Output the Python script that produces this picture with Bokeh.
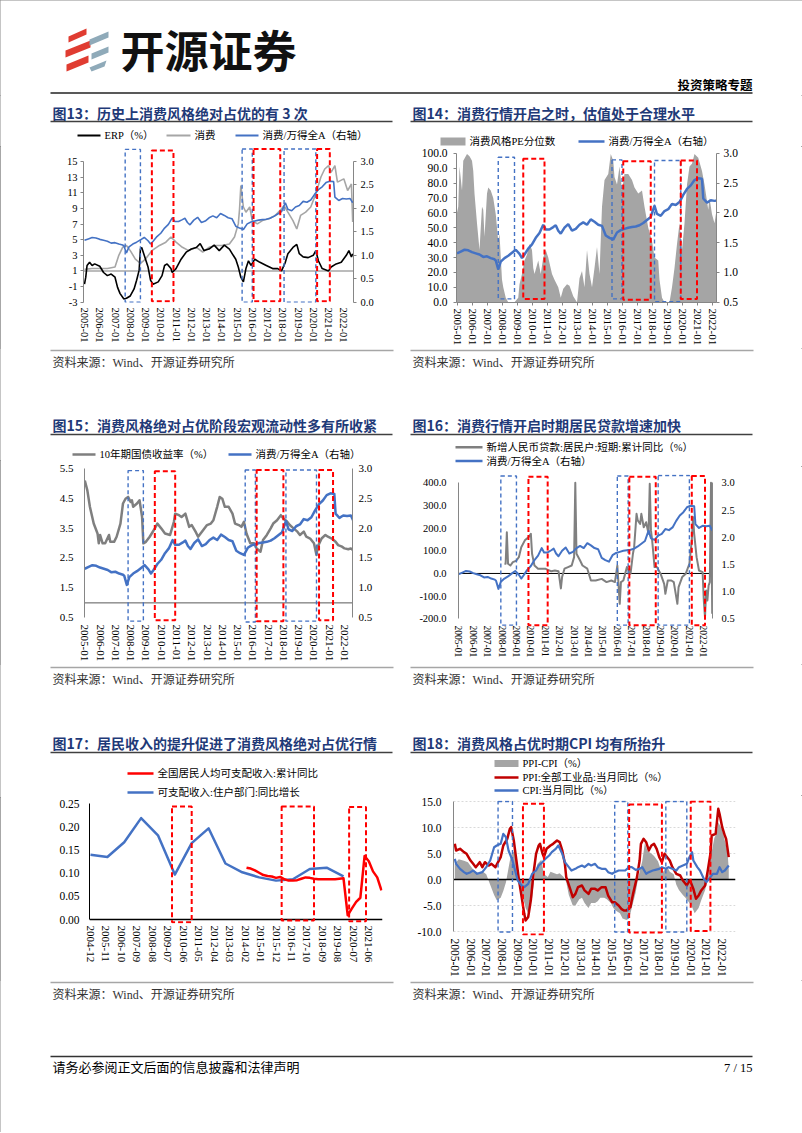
import math
from bokeh.plotting import figure
from bokeh.layouts import column, row
from bokeh.models import Range1d, LinearAxis, FixedTicker, PrintfTickFormatter, Span
from bokeh.core.properties import value
from bokeh.embed import file_html
from bokeh.resources import INLINE

SERIF = "Liberation Serif, Noto Sans CJK SC"
CJK = "Noto Sans CJK SC"
NAVY = "#1f3a78"
BLUE = "#4472C4"
RED = "#FF0000"
DRED = "#C00000"
AREA_GRAY = "#A5A5A5"

# ---------------- tick labels ----------------
YEAR_TICKS = [2005, 2006, 2007, 2008, 2009, 2010, 2011, 2012, 2013, 2014, 2015, 2016, 2017, 2018, 2019, 2020, 2021, 2022]
YEAR_LABELS = ["2005-01", "2006-01", "2007-01", "2008-01", "2009-01", "2010-01", "2011-01", "2012-01", "2013-01",
               "2014-01", "2015-01", "2016-01", "2017-01", "2018-01", "2019-01", "2020-01", "2021-01", "2022-01"]
C17_TICK_LABELS = ["2004-12", "2005-11", "2006-10", "2007-09", "2008-08", "2009-07", "2010-06", "2011-05", "2012-04",
                   "2013-03", "2014-02", "2015-01", "2015-12", "2016-11", "2017-10", "2018-09", "2019-08", "2020-07",
                   "2021-06"]
C13_L_TICKS = [-3, -1, 1, 3, 5, 7, 9, 11, 13, 15]
C13_R_TICKS = [0.0, 0.5, 1.0, 1.5, 2.0, 2.5, 3.0]
C14_L_TICKS = [0, 10, 20, 30, 40, 50, 60, 70, 80, 90, 100]
C14_R_TICKS = [0.5, 1.0, 1.5, 2.0, 2.5, 3.0]
C15_L_TICKS = [0.5, 1.5, 2.5, 3.5, 4.5, 5.5]
C15_R_TICKS = [0.5, 1.0, 1.5, 2.0, 2.5, 3.0]
C16_L_TICKS = [-200, -100, 0, 100, 200, 300, 400]
C16_R_TICKS = [0.5, 1.0, 1.5, 2.0, 2.5, 3.0]
C17_Y_TICKS = [0.0, 0.05, 0.10, 0.15, 0.20, 0.25]
C18_Y_TICKS = [-10, -5, 0, 5, 10, 15]

# ---------------- shared series: 消费/万得全A ----------------
REL_DATES = ["2005-01", "2005-04", "2005-07", "2005-10", "2006-01", "2006-04", "2006-07", "2006-10", "2007-01",
             "2007-04", "2007-07", "2007-08", "2007-10", "2007-12", "2008-03", "2008-06", "2008-09", "2008-12",
             "2009-03", "2009-05", "2009-07", "2009-10", "2010-01", "2010-04", "2010-07", "2010-10", "2010-12",
             "2011-03", "2011-06", "2011-08", "2011-10", "2011-12", "2012-03", "2012-06", "2012-09", "2012-12",
             "2013-03", "2013-06", "2013-09", "2013-12", "2014-03", "2014-06", "2014-09", "2014-12", "2015-03",
             "2015-06", "2015-09", "2015-12", "2016-03", "2016-06", "2016-09", "2016-12", "2017-03", "2017-06",
             "2017-09", "2017-12", "2018-03", "2018-05", "2018-08", "2018-11", "2019-02", "2019-05", "2019-08",
             "2019-11", "2020-02", "2020-05", "2020-08", "2020-11", "2021-02", "2021-05", "2021-06", "2021-09",
             "2021-12", "2022-03", "2022-06", "2022-08"]
REL_VALS = [1.32, 1.35, 1.38, 1.37, 1.34, 1.32, 1.30, 1.26, 1.27,
            1.24, 1.22, 1.20, 1.05, 1.18, 1.24, 1.28, 1.33, 1.38,
            1.31, 1.24, 1.30, 1.40, 1.47, 1.58, 1.66, 1.80, 1.72,
            1.72, 1.76, 1.79, 1.70, 1.65, 1.75, 1.81, 1.70, 1.73,
            1.80, 1.84, 1.80, 1.89, 1.85, 1.80, 1.78, 1.62, 1.58,
            1.55, 1.67, 1.71, 1.73, 1.75, 1.76, 1.77, 1.79, 1.83,
            1.88, 1.93, 2.12, 1.98, 1.95, 2.03, 2.06, 2.15, 2.13,
            2.18, 2.30, 2.40, 2.46, 2.55, 2.58, 2.57, 2.24, 2.17,
            2.21, 2.20, 2.21, 2.12]

# ---------------- chart 13 ----------------
ERP_DATES = ["2005-01", "2005-02", "2005-03", "2005-05", "2005-07", "2005-09", "2006-01", "2006-04", "2006-07",
             "2006-10", "2007-01", "2007-03", "2007-05", "2007-08", "2007-10", "2008-01", "2008-04", "2008-06",
             "2008-08", "2008-09", "2008-10", "2009-01", "2009-03", "2009-05", "2009-07", "2009-11", "2010-02",
             "2010-04", "2010-06", "2010-09", "2010-10", "2011-01", "2011-05", "2011-09", "2012-01", "2012-05",
             "2012-08", "2012-11", "2013-03", "2013-07", "2013-11", "2014-03", "2014-07", "2014-10", "2014-12",
             "2015-02", "2015-04", "2015-06", "2015-08", "2015-10", "2015-12", "2016-03", "2016-07", "2016-12",
             "2017-05", "2017-09", "2017-12", "2018-03", "2018-05", "2018-09", "2018-12", "2019-02", "2019-05",
             "2019-09", "2020-01", "2020-03", "2020-05", "2020-08", "2021-01", "2021-03", "2021-07", "2021-11",
             "2022-03", "2022-05", "2022-07", "2022-08"]
ERP_VALS = [-0.7, 0.2, 1.7, 2.1, 1.7, 1.9, 1.6, 0.8, 0.4,
            0.6, 0.2, -1.1, -1.9, -2.6, -2.5, -2.2, -1.3, -0.2,
            1.1, 3.8, 4.0, 2.5, 1.5, -0.2, -0.7, -0.4, 0.4,
            1.7, 1.9, 1.3, 0.8, 1.3, 2.5, 3.4, 3.8, 4.0,
            4.5, 3.6, 3.8, 4.3, 3.6, 4.3, 3.8, 3.0, 2.5,
            1.5, 0.2, -0.4, 1.3, 2.3, 1.7, 2.5, 2.1, 1.7,
            1.3, 1.3, 1.0, 2.1, 3.2, 4.0, 4.4, 3.2, 2.8,
            2.7, 3.0, 3.6, 2.3, 1.3, 1.0, 1.5, 1.9, 2.1,
            3.0, 3.6, 2.8, 3.2]
CONS_DATES = ["2005-01", "2005-07", "2006-01", "2006-07", "2007-01", "2007-04", "2007-07", "2007-10", "2008-01",
              "2008-05", "2008-09", "2009-01", "2009-06", "2009-12", "2010-05", "2010-09", "2011-01", "2011-06",
              "2011-11", "2012-05", "2012-10", "2013-03", "2013-08", "2014-01", "2014-07", "2014-11", "2015-02",
              "2015-03", "2015-04", "2015-06", "2015-08", "2015-11", "2016-01", "2016-05", "2016-09", "2017-02",
              "2017-07", "2017-12", "2018-02", "2018-05", "2018-09", "2018-12", "2019-03", "2019-07", "2019-11",
              "2020-03", "2020-07", "2020-10", "2021-01", "2021-03", "2021-06", "2021-08", "2022-01", "2022-04",
              "2022-07", "2022-08"]
CONS_VALS = [0.70, 0.72, 0.72, 0.72, 0.75, 1.00, 1.17, 1.21, 1.10,
             0.92, 0.83, 0.92, 1.10, 1.21, 1.28, 1.39, 1.28, 1.17,
             1.10, 1.17, 1.07, 1.17, 1.21, 1.21, 1.24, 1.39, 1.67,
             1.99, 2.49, 2.03, 1.92, 2.03, 1.74, 1.67, 1.74, 1.78,
             1.85, 1.99, 2.06, 1.92, 1.74, 1.56, 1.85, 1.92, 2.03,
             2.31, 2.67, 2.84, 2.91, 2.77, 2.91, 2.56, 2.63, 2.38,
             2.52, 1.71]
C13_BLUE_BOX_START = ["2007-09", "2015-05", "2018-02"]
C13_BLUE_BOX_END = ["2008-09", "2016-01", "2020-03"]
C13_BLUE_BOX_TOP = [16.55, 16.6, 16.6]
C13_BLUE_BOX_BOTTOM = [-3.0, -3.0, -3.0]
C13_RED_BOX_START = ["2009-06", "2016-02", "2020-04"]
C13_RED_BOX_END = ["2010-11", "2017-11", "2021-02"]
C13_RED_BOX_TOP = [16.4, 16.6, 16.6]
C13_RED_BOX_BOTTOM = [-2.88, -2.88, -2.88]

# ---------------- chart 14 ----------------
PE_DATES = ["2005-01", "2005-02", "2005-03", "2005-05", "2005-06", "2005-09", "2005-11", "2006-01", "2006-02",
            "2006-03", "2006-05", "2006-07", "2006-08", "2006-09", "2006-10", "2006-11", "2007-01", "2007-02",
            "2007-04", "2007-06", "2007-08", "2007-10", "2007-11", "2008-01", "2008-02", "2008-04", "2008-06",
            "2008-11", "2009-02", "2009-03", "2009-05", "2009-07", "2009-09", "2009-11", "2010-01", "2010-02",
            "2010-03", "2010-06", "2010-08", "2010-10", "2010-12", "2011-02", "2011-05", "2011-07", "2011-10",
            "2011-12", "2012-02", "2012-05", "2012-07", "2012-10", "2013-01", "2013-03", "2013-05", "2013-07",
            "2013-09", "2013-11", "2014-01", "2014-03", "2014-05", "2014-07", "2014-09", "2014-11", "2015-02",
            "2015-04", "2015-06", "2015-07", "2015-09", "2015-11", "2016-01", "2016-03", "2016-06", "2016-09",
            "2016-11", "2017-02", "2017-05", "2017-07", "2017-10", "2018-01", "2018-03", "2018-06", "2018-07",
            "2018-09", "2018-11", "2019-03", "2019-05", "2019-07", "2019-09", "2019-11", "2020-01", "2020-03",
            "2020-05", "2020-07", "2020-09", "2020-11", "2021-02", "2021-05", "2021-07", "2021-10", "2021-11",
            "2022-01", "2022-03", "2022-05", "2022-06"]
PE_VALS = [60, 64, 91, 75, 95, 99.5, 98, 95, 88,
           73, 53, 35, 50, 64, 62, 44, 73, 77,
           75, 70, 59, 41, 46, 15, 10, 3, 0,
           0, 3, 12, 19, 28, 32, 39, 35, 23,
           19, 28, 19, 30, 35, 30, 19, 15, 10,
           3, 9, 12, 11, 4, 0, 16, 21, 10,
           35, 19, 10, 23, 37, 19, 64, 82, 86,
           99.5, 95, 84, 79, 91, 75, 86, 86, 82,
           77, 73, 75, 64, 50, 41, 30, 28, 15,
           3, 0, 0, 10, 23, 39, 53, 35, 53,
           79, 91, 93, 99.5, 97, 88, 79, 62, 70,
           59, 53, 64, 75]
C14_BLUE_BOX_START = ["2007-10", "2015-05", "2018-03"]
C14_BLUE_BOX_END = ["2008-11", "2016-01", "2019-12"]
C14_BLUE_BOX_TOP = [97.3, 95.5, 95.1]
C14_BLUE_BOX_BOTTOM = [2.2, 2.2, 0.3]
C14_RED_BOX_START = ["2009-06", "2016-02", "2019-12"]
C14_RED_BOX_END = ["2010-11", "2017-12", "2021-01"]
C14_RED_BOX_TOP = [96.2, 94.6, 95.1]
C14_RED_BOX_BOTTOM = [2.2, 1.6, 2.2]

# ---------------- chart 15 ----------------
YIELD_DATES = ["2005-01", "2005-03", "2005-05", "2005-08", "2005-11", "2005-12", "2006-01", "2006-03", "2006-05",
               "2006-08", "2006-09", "2006-12", "2007-02", "2007-05", "2007-07", "2007-09", "2007-11", "2008-01",
               "2008-02", "2008-03", "2008-06", "2008-08", "2008-10", "2008-11", "2009-01", "2009-04", "2009-08",
               "2009-10", "2010-01", "2010-04", "2010-08", "2010-11", "2010-12", "2011-03", "2011-05", "2011-08",
               "2011-11", "2012-01", "2012-04", "2012-06", "2012-09", "2013-01", "2013-04", "2013-06", "2013-09",
               "2013-11", "2014-01", "2014-03", "2014-06", "2014-09", "2014-11", "2015-02", "2015-04", "2015-06",
               "2015-08", "2015-11", "2016-02", "2016-04", "2016-07", "2016-09", "2016-12", "2017-03", "2017-05",
               "2017-08", "2017-11", "2018-01", "2018-04", "2018-06", "2018-09", "2018-12", "2019-02", "2019-05",
               "2019-07", "2019-10", "2020-01", "2020-03", "2020-04", "2020-07", "2020-10", "2020-12", "2021-03",
               "2021-06", "2021-08", "2021-11", "2022-01", "2022-04", "2022-06", "2022-08"]
YIELD_VALS = [5.09, 4.76, 4.21, 3.65, 3.32, 2.99, 3.27, 2.99, 2.99,
              3.27, 3.04, 3.04, 3.21, 3.65, 4.32, 4.48, 4.54, 4.37,
              4.43, 4.21, 4.32, 4.43, 3.87, 2.99, 3.04, 3.21, 3.49,
              3.65, 3.49, 3.32, 3.27, 3.71, 3.98, 3.93, 3.87, 3.98,
              3.54, 3.60, 3.38, 3.21, 3.38, 3.60, 3.65, 3.76, 4.21,
              4.54, 4.48, 4.21, 4.21, 3.98, 3.65, 3.60, 3.54, 3.71,
              3.32, 2.99, 2.99, 2.82, 2.71, 3.10, 3.27, 3.49, 3.65,
              3.76, 3.93, 3.82, 3.71, 3.60, 3.49, 3.38, 3.27, 3.38,
              3.21, 3.15, 2.99, 2.60, 2.88, 3.15, 3.27, 3.21, 3.15,
              3.04, 2.93, 2.88, 2.82, 2.79, 2.82, 2.75]
C15_BLUE_BOX_START = ["2007-11", "2015-07", "2018-03"]
C15_BLUE_BOX_END = ["2008-11", "2016-03", "2020-03"]
C15_BLUE_BOX_TOP = [5.42, 5.44, 5.44]
C15_BLUE_BOX_BOTTOM = [0.39, 0.36, 0.39]
C15_RED_BOX_START = ["2009-08", "2016-04", "2020-05"]
C15_RED_BOX_END = ["2010-12", "2018-01", "2021-04"]
C15_RED_BOX_TOP = [5.40, 5.44, 5.44]
C15_RED_BOX_BOTTOM = [0.42, 0.39, 0.42]

# ---------------- chart 16 ----------------
LOAN_DATES = ["2008-03", "2008-04", "2008-05", "2008-06", "2008-08", "2008-10", "2009-01", "2009-03", "2009-05",
              "2009-08", "2009-11", "2010-01", "2010-02", "2010-04", "2010-07", "2010-10", "2011-01", "2011-03",
              "2011-06", "2011-09", "2011-12", "2012-02", "2012-03", "2012-05", "2012-08", "2012-11", "2013-01",
              "2013-02", "2013-03", "2013-06", "2013-08", "2013-12", "2014-03", "2014-07", "2014-12", "2015-04",
              "2015-08", "2015-11", "2016-01", "2016-03", "2016-04", "2016-06", "2016-09", "2016-12", "2017-02",
              "2017-03", "2017-05", "2017-06", "2017-08", "2017-09", "2017-11", "2018-01", "2018-03", "2018-04",
              "2018-05", "2018-06", "2018-08", "2018-10", "2019-01", "2019-04", "2019-05", "2019-07", "2019-10",
              "2019-12", "2020-03", "2020-04", "2020-07", "2020-10", "2021-01", "2021-03", "2021-04", "2021-05",
              "2021-07", "2021-09", "2021-12", "2022-01", "2022-02", "2022-03", "2022-04", "2022-05", "2022-06",
              "2022-07", "2022-08"]
LOAN_VALS = [43, 43, 182, 43, 35, 50, 57, 72, 116,
             146, 160, 175, 87, 35, 21, 21, 21, 16,
             10, 13, 10, -66, -16, 21, 28, 35, 72,
             400, 87, 57, 35, 21, -31, -31, -24, -38,
             -31, -38, 35, -134, -38, -31, 28, -1, 87,
             116, 263, 234, 219, 263, 204, 226, 175, 396,
             190, 146, 28, 28, -1, -46, -90, -31, -31,
             -38, -134, -60, -16, -1, 43, 146, 249, 175,
             72, 13, 6, -119, -193, -75, -119, -53, -38,
             400, -178]
C16_BLUE_BOX_START = ["2007-12", "2016-01", "2018-11"]
C16_BLUE_BOX_END = ["2009-01", "2016-10", "2021-01"]
C16_BLUE_BOX_TOP = [430, 430, 432]
C16_BLUE_BOX_BOTTOM = [-228, -228, -228]
C16_RED_BOX_START = ["2009-11", "2016-11", "2021-03"]
C16_RED_BOX_END = ["2011-03", "2018-09", "2022-02"]
C16_RED_BOX_TOP = [427, 427, 430]
C16_RED_BOX_BOTTOM = [-228, -228, -228]

# ---------------- chart 17 ----------------
HH_INC_DATES = ["2004-12", "2005-12", "2006-12", "2007-12", "2008-12", "2009-12", "2010-12", "2011-12", "2012-12",
                "2013-12", "2014-12", "2015-12", "2016-12", "2017-12", "2018-12", "2019-12"]
HH_INC_VALS = [0.140, 0.135, 0.167, 0.219, 0.182, 0.097, 0.165, 0.197, 0.121,
               0.102, 0.091, 0.084, 0.087, 0.109, 0.112, 0.093]
PC_INC_DATES = ["2014-03", "2014-06", "2014-09", "2014-12", "2015-03", "2015-06", "2015-09", "2015-12", "2016-03",
                "2016-06", "2016-09", "2016-12", "2017-03", "2017-06", "2017-09", "2017-12", "2018-03", "2018-06",
                "2018-09", "2018-12", "2019-03", "2019-06", "2019-09", "2019-12", "2020-03", "2020-06", "2020-09",
                "2020-12", "2021-03", "2021-06", "2021-09", "2021-12", "2022-03"]
PC_INC_VALS = [0.112, 0.110, 0.106, 0.101, 0.096, 0.094, 0.093, 0.090, 0.092,
               0.087, 0.084, 0.084, 0.085, 0.088, 0.091, 0.090, 0.088, 0.087,
               0.087, 0.087, 0.087, 0.087, 0.088, 0.089, 0.009, 0.024, 0.038,
               0.047, 0.137, 0.126, 0.104, 0.091, 0.063]
C17_BOX_START = ["2009-10", "2016-04", "2020-04"]
C17_BOX_END = ["2010-12", "2018-03", "2021-04"]
C17_BOX_TOP = [0.244, 0.244, 0.243]
C17_BOX_BOTTOM = [-0.006, -0.002, -0.004]

# ---------------- chart 18 ----------------
PPI_DATES = ["2005-01", "2005-02", "2005-05", "2005-08", "2005-10", "2006-01", "2006-03", "2006-05", "2006-08",
             "2006-10", "2006-12", "2007-03", "2007-05", "2007-08", "2007-10", "2007-12", "2008-02", "2008-05",
             "2008-07", "2008-08", "2008-10", "2008-12", "2009-02", "2009-04", "2009-06", "2009-07", "2009-09",
             "2009-11", "2010-01", "2010-03", "2010-05", "2010-06", "2010-08", "2010-09", "2010-11", "2011-02",
             "2011-04", "2011-07", "2011-09", "2011-11", "2012-01", "2012-02", "2012-05", "2012-07", "2012-09",
             "2012-11", "2013-02", "2013-04", "2013-07", "2013-09", "2013-12", "2014-02", "2014-05", "2014-08",
             "2014-10", "2015-01", "2015-03", "2015-06", "2015-08", "2015-10", "2015-12", "2016-03", "2016-05",
             "2016-08", "2016-10", "2016-11", "2017-01", "2017-03", "2017-05", "2017-07", "2017-09", "2017-11",
             "2018-01", "2018-03", "2018-05", "2018-06", "2018-09", "2018-11", "2019-02", "2019-05", "2019-07",
             "2019-10", "2019-12", "2020-01", "2020-03", "2020-05", "2020-07", "2020-09", "2020-12", "2021-02",
             "2021-04", "2021-05", "2021-08", "2021-10", "2021-11", "2022-01", "2022-03", "2022-04", "2022-06"]
PPI_VALS = [6.86, 5.58, 5.90, 5.26, 4.94, 3.65, 3.01, 2.37, 3.33,
            2.37, 3.33, 2.69, 3.01, 2.37, 3.33, 4.29, 6.54, 7.82,
            9.74, 10.06, 7.50, 3.65, -0.19, -3.40, -6.60, -7.90, -7.20,
            -4.00, 1.10, 4.94, 6.54, 6.86, 4.94, 4.30, 5.90, 6.54,
            6.86, 7.50, 7.18, 5.58, 3.01, 0.45, -1.80, -3.40, -2.76,
            -1.47, -1.15, -2.10, -2.76, -1.80, -1.80, -2.10, -1.47, -1.47,
            -3.08, -4.36, -4.36, -5.00, -5.64, -5.96, -5.96, -5.30, -2.76,
            0.45, 3.65, 6.86, 7.82, 7.18, 5.58, 6.54, 6.86, 5.90,
            4.29, 3.33, 4.94, 4.62, 3.65, 2.37, 1.10, 0.77, -0.19,
            -1.15, -0.19, -0.50, -1.80, -3.70, -3.08, -2.10, -1.15, 1.73,
            4.94, 8.46, 8.78, 13.60, 12.60, 10.06, 8.46, 7.82, 4.29]
CPI_DATES = ["2005-01", "2005-02", "2005-05", "2005-08", "2005-10", "2006-01", "2006-03", "2006-06", "2006-10",
             "2007-01", "2007-04", "2007-07", "2007-09", "2007-12", "2008-02", "2008-04", "2008-06", "2008-09",
             "2008-11", "2009-01", "2009-04", "2009-06", "2009-09", "2009-12", "2010-03", "2010-05", "2010-08",
             "2010-10", "2011-01", "2011-03", "2011-06", "2011-08", "2011-11", "2012-01", "2012-04", "2012-06",
             "2012-09", "2012-11", "2013-02", "2013-04", "2013-07", "2013-09", "2013-12", "2014-02", "2014-05",
             "2014-08", "2014-10", "2015-01", "2015-03", "2015-06", "2015-08", "2015-11", "2016-02", "2016-04",
             "2016-07", "2016-10", "2016-12", "2017-03", "2017-05", "2017-08", "2017-10", "2018-01", "2018-03",
             "2018-06", "2018-08", "2018-11", "2019-02", "2019-04", "2019-07", "2019-10", "2019-12", "2020-02",
             "2020-03", "2020-06", "2020-08", "2020-11", "2021-01", "2021-04", "2021-06", "2021-09", "2021-11",
             "2022-01", "2022-03", "2022-06"]
CPI_VALS = [3.97, 3.00, 2.05, 1.41, 1.10, 1.41, 1.73, 1.10, 1.41,
            2.37, 3.65, 6.20, 6.54, 6.86, 8.78, 8.14, 5.58, 3.65,
            1.73, -0.19, -1.15, -1.47, -0.83, 1.10, 1.73, 2.69, 3.33,
            3.97, 4.62, 5.26, 5.90, 6.54, 4.94, 3.33, 2.37, 1.73,
            2.05, 2.37, 2.69, 2.37, 3.01, 2.69, 3.01, 2.37, 2.05,
            2.05, 1.41, 1.10, 1.41, 1.73, 1.73, 1.73, 2.37, 2.37,
            1.86, 2.05, 2.37, 1.10, 1.41, 1.73, 1.86, 2.05, 2.37,
            2.05, 2.37, 2.05, 1.73, 2.37, 2.69, 3.01, 4.30, 5.26,
            3.65, 2.37, 1.73, 0.13, -0.50, 0.45, 1.10, 1.10, 2.37,
            1.41, 1.73, 2.69]
GAP_DATES = ["2005-01", "2005-04", "2005-08", "2005-11", "2006-03", "2006-07", "2006-10", "2007-01", "2007-04",
             "2007-07", "2007-09", "2007-12", "2008-02", "2008-04", "2008-07", "2008-09", "2008-11", "2009-02",
             "2009-04", "2009-07", "2009-09", "2009-12", "2010-02", "2010-04", "2010-07", "2010-09", "2010-12",
             "2011-02", "2011-04", "2011-07", "2011-09", "2011-12", "2012-02", "2012-04", "2012-07", "2012-09",
             "2012-12", "2013-02", "2013-04", "2013-07", "2013-09", "2013-12", "2014-02", "2014-04", "2014-07",
             "2014-09", "2014-12", "2015-02", "2015-04", "2015-07", "2015-09", "2015-12", "2016-02", "2016-04",
             "2016-07", "2016-09", "2016-12", "2017-02", "2017-04", "2017-07", "2017-09", "2017-12", "2018-02",
             "2018-04", "2018-07", "2018-09", "2018-12", "2019-02", "2019-04", "2019-07", "2019-09", "2019-12",
             "2020-02", "2020-04", "2020-07", "2020-09", "2020-12", "2021-02", "2021-04", "2021-07", "2021-09",
             "2021-10", "2022-01", "2022-03", "2022-05", "2022-06"]
GAP_VALS = [3.0, 3.9, 3.6, 3.3, 1.9, 1.2, 1.6, 1.0, -1.0,
            -3.0, -4.0, -3.5, -2.2, -0.6, 3.6, 5.5, 5.0, 0.0,
            -2.3, -5.5, -6.5, -3.5, 1.0, 3.0, 3.8, 1.0, 0.5,
            1.5, 1.3, 1.0, 1.2, 0.5, -0.5, -3.0, -5.0, -5.0,
            -3.8, -3.5, -4.5, -5.5, -4.5, -4.5, -4.2, -3.5, -3.5,
            -3.8, -4.5, -5.5, -6.0, -6.5, -7.5, -7.8, -7.5, -5.5,
            -2.5, 0.5, 3.5, 7.0, 5.5, 5.0, 4.5, 3.5, 2.0,
            1.5, 2.5, 1.5, 1.0, -1.0, -2.0, -3.0, -3.5, -4.5,
            -5.3, -6.5, -5.5, -4.0, -2.0, 0.5, 4.0, 8.0, 9.0,
            11.0, 9.5, 7.5, 5.5, 2.0]
C18_BLUE_BOX_START = ["2007-10", "2015-03", "2018-06"]
C18_BLUE_BOX_END = ["2008-09", "2016-01", "2019-10"]
C18_BLUE_BOX_TOP = [15.0, 15.0, 15.0]
C18_BLUE_BOX_BOTTOM = [-10.1, -10.1, -10.1]
C18_RED_BOX_START = ["2009-05", "2016-02", "2020-01"]
C18_RED_BOX_END = ["2010-09", "2018-03", "2021-04"]
C18_RED_BOX_TOP = [14.55, 14.42, 15.0]
C18_RED_BOX_BOTTOM = [-10.6, -10.2, -9.9]

# ---------------- texts ----------------
SOURCE = "资料来源：Wind、开源证券研究所"
TITLES = {
    13: "图13：历史上消费风格绝对占优的有 3 次",
    14: "图14：消费行情开启之时，估值处于合理水平",
    15: "图15：消费风格绝对占优阶段宏观流动性多有所收紧",
    16: "图16：消费行情开启时期居民贷款增速加快",
    17: "图17：居民收入的提升促进了消费风格绝对占优行情",
    18: "图18：消费风格占优时期CPI 均有所抬升",
}


def ym(s):
    y, m = s.split("-")
    return int(y) + (int(m) - 1) / 12.0


def mi(s):
    y, m = s.split("-")
    return (int(y) - 2004) * 12 + int(m) - 12


def yrs(lst):
    return [ym(s) for s in lst]


def mis(lst):
    return [mi(s) for s in lst]


def lin(v1, p1, v2, p2, q):
    return v1 + (q - p1) * (v2 - v1) / (p2 - p1)


# ---------------- helpers ----------------
def decor(x0, x1, y0, y1):
    p = figure(width=x1 - x0, height=y1 - y0, x_range=Range1d(x0, x1), y_range=Range1d(y1, y0),
               x_axis_type=None, y_axis_type=None, toolbar_location=None, output_backend="svg",
               min_border=0, min_border_left=0, min_border_right=0, min_border_top=0, min_border_bottom=0,
               outline_line_color=None)
    return p


def txt(p, x, y, s, size, color="#000000", font=SERIF, align="left", bold=False):
    p.text(x=[x], y=[y], text=[s], text_font=value(font), text_font_size=value(f"{size}px"),
           text_color=color, text_align=align, text_baseline="middle",
           text_font_style="bold" if bold else "normal")


def hl(p, x0, x1, y, color, w):
    p.segment(x0=[x0], y0=[y], x1=[x1], y1=[y], line_color=color, line_width=w)


def leg_line(p, x0, x1, y, color, w, label, size=10.5):
    hl(p, x0, x1, y, color, w)
    txt(p, x1 + 4, y, label, size, "#000000")


def leg_box(p, x0, x1, y, color, h, label, size=10.5):
    p.quad(left=[x0], right=[x1], top=[y - h / 2], bottom=[y + h / 2], fill_color=color, line_color=None)
    txt(p, x1 + 4, y, label, size, "#000000")


def title(p, x, y, s, x0, x1, uy):
    txt(p, x, y, s, 14, NAVY, CJK, bold=True)
    hl(p, x0, x1, uy, "#404040", 1.5)


def source(p, x0, x1, ly, ty):
    hl(p, x0, x1, ly, "#A6A6A6", 1.5)
    txt(p, x0 + 2, ty, SOURCE, 12, "#333333")


def chart(fig_box, frame_box, xr, yr):
    fx0, fx1, fy0, fy1 = fig_box
    l, r, t, b = frame_box
    p = figure(width=fx1 - fx0, height=fy1 - fy0, x_range=Range1d(*xr), y_range=Range1d(*yr),
               toolbar_location=None, output_backend="svg",
               min_border_left=l - fx0, min_border_right=fx1 - r,
               min_border_top=t - fy0, min_border_bottom=fy1 - b,
               outline_line_color=None)
    p.xgrid.visible = False
    p.ygrid.visible = False
    return p


def yax(ax, ticks, fmt, size, color="#868686", tick_out=0, standoff=4, bounds=None, lw=1):
    ax.ticker = FixedTicker(ticks=ticks, minor_ticks=[])
    ax.formatter = PrintfTickFormatter(format=fmt)
    ax.axis_line_color = color
    ax.axis_line_width = lw
    ax.major_tick_line_color = color
    ax.major_tick_out = tick_out
    ax.major_tick_in = 0
    ax.minor_tick_line_color = None
    ax.major_label_standoff = standoff
    ax.major_label_text_font = "Liberation Serif"
    ax.major_label_text_font_size = f"{size}px"
    ax.major_label_text_color = "#000000"
    if bounds is not None:
        ax.bounds = bounds


def xax(ax, ticks, labels, size, standoff, line_color=None, tick_in=0, tick_out=0, lw=1):
    ax.ticker = FixedTicker(ticks=ticks, minor_ticks=[])
    ax.major_label_overrides = {t: s for t, s in zip(ticks, labels)}
    ax.major_label_orientation = -math.pi / 2
    ax.axis_line_color = line_color
    ax.axis_line_width = lw
    ax.major_tick_line_color = line_color
    ax.major_tick_in = tick_in
    ax.major_tick_out = tick_out
    ax.minor_tick_line_color = None
    ax.major_label_standoff = standoff
    ax.major_label_text_font = "Liberation Serif"
    ax.major_label_text_font_size = f"{size}px"
    ax.major_label_text_color = "#000000"


def boxes(p, xs0, xs1, tops, bottoms, color, dash, w, conv=yrs):
    p.quad(left=conv(xs0), right=conv(xs1), top=tops, bottom=bottoms, fill_color=None,
           line_color=color, line_dash=dash, line_width=w)


W = 802
MID = 401

# ================= header =================
hdr = decor(0, W, 0, 95)
hdr.patches(xs=[[68, 86, 86, 68], [65, 90, 90, 65], [66, 88, 88, 66]],
            ys=[[36, 28, 34, 42], [50, 40, 47, 57], [64, 55, 62, 71]], fill_color="#E03C31", line_color=None)
hdr.patches(xs=[[89, 108, 108, 89], [91, 108, 108, 91], [89, 106, 104, 91]],
            ys=[[39, 31, 37, 45], [53, 46, 52, 59], [67, 60, 66, 71]], fill_color="#8FAAB9", line_color=None)
txt(hdr, 120, 48, "开源证券", 44, "#111111", CJK, bold=True)
txt(hdr, 752, 84, "投资策略专题", 12.5, "#000000", CJK, align="right", bold=True)
hl(hdr, 50, 752, 92.5, "#595959", 2)

# ================= row 1 titles / legends =================
top1 = decor(0, W, 95, 146)
title(top1, 52, 112, TITLES[13], 50, 392, 121)
title(top1, 412, 112, TITLES[14], 410, 752, 121)
leg_line(top1, 77, 100, 135, "#000000", 2, "ERP（%）")
leg_line(top1, 166, 190, 135, "#A6A6A6", 2, "消费")
leg_line(top1, 235, 258, 135, BLUE, 2, "消费/万得全A（右轴）")
leg_box(top1, 440, 465, 141, AREA_GRAY, 8, "消费风格PE分位数")
leg_line(top1, 578, 604, 141, BLUE, 2.5, "消费/万得全A（右轴）")

# ================= chart 13 =================
c13 = chart((0, MID, 146, 348), (83, 353, 147, 302),
            (lin(2005, 84, 2022, 343.3, 83), lin(2005, 84, 2022, 343.3, 353)),
            (lin(-3, 301.7, 15, 161, 302), lin(-3, 301.7, 15, 161, 147)))
c13.extra_y_ranges = {"r": Range1d(lin(0, 301.7, 3, 161, 302), lin(0, 301.7, 3, 161, 147))}
c13.add_layout(Span(location=1, dimension="width", line_color="#A6A6A6", line_width=1.5, level="underlay"))
c13.line(yrs(CONS_DATES), CONS_VALS, y_range_name="r", line_color="#A6A6A6", line_width=1.6)
c13.line(yrs(ERP_DATES), ERP_VALS, line_color="#000000", line_width=1.6)
c13.line(yrs(REL_DATES), REL_VALS, y_range_name="r", line_color=BLUE, line_width=1.6)
boxes(c13, C13_BLUE_BOX_START, C13_BLUE_BOX_END, C13_BLUE_BOX_TOP, C13_BLUE_BOX_BOTTOM, BLUE, "4 3", 1.4)
boxes(c13, C13_RED_BOX_START, C13_RED_BOX_END, C13_RED_BOX_TOP, C13_RED_BOX_BOTTOM, RED, "5 3", 2)
yax(c13.yaxis[0], C13_L_TICKS, "%d", 10.5, tick_out=3, standoff=3, bounds=(-3, 15))
r13 = LinearAxis(y_range_name="r")
yax(r13, C13_R_TICKS, "%.1f", 10.5, tick_out=3, standoff=4, bounds=(0, 3))
c13.add_layout(r13, "right")
xax(c13.xaxis[0], YEAR_TICKS, YEAR_LABELS, 10.5, 5)

# ================= chart 14 =================
c14 = chart((MID, W, 146, 348), (456, 716, 147, 302),
            (lin(2005, 456.5, 2006, 471.5, 456), lin(2005, 456.5, 2006, 471.5, 716)),
            (lin(0, 301.7, 100, 152.7, 302), lin(0, 301.7, 100, 152.7, 147)))
c14.extra_y_ranges = {"r": Range1d(lin(0.5, 301.7, 3.0, 152.7, 302), lin(0.5, 301.7, 3.0, 152.7, 147))}
c14.varea(x=yrs(PE_DATES), y1=0, y2=PE_VALS, fill_color=AREA_GRAY)
c14.line(yrs(REL_DATES), REL_VALS, y_range_name="r", line_color=BLUE, line_width=2.5)
boxes(c14, C14_BLUE_BOX_START, C14_BLUE_BOX_END, C14_BLUE_BOX_TOP, C14_BLUE_BOX_BOTTOM, BLUE, "4 3", 1.4)
boxes(c14, C14_RED_BOX_START, C14_RED_BOX_END, C14_RED_BOX_TOP, C14_RED_BOX_BOTTOM, RED, "5 3", 2)
yax(c14.yaxis[0], C14_L_TICKS, "%.1f", 11.5, tick_out=3, standoff=6, bounds=(0, 100))
r14 = LinearAxis(y_range_name="r")
yax(r14, C14_R_TICKS, "%.1f", 11.5, tick_out=3, standoff=4, bounds=(0.5, 3.0))
c14.add_layout(r14, "right")
xax(c14.xaxis[0], YEAR_TICKS, YEAR_LABELS, 11, 3, line_color="#868686", tick_out=3)

# ================= row 2 =================
b2l = decor(0, MID, 348, 460)
source(b2l, 50, 393, 350, 362)
title(b2l, 52, 424, TITLES[15], 50, 392, 434)
leg_line(b2l, 72, 95, 454, "#7F7F7F", 2.5, "10年期国债收益率（%）")
leg_line(b2l, 228, 251, 454, BLUE, 2.5, "消费/万得全A（右轴）")

c15 = chart((0, MID, 460, 664), (84, 352, 466, 625),
            (lin(2005, 84.3, 2022, 344, 84), lin(2005, 84.3, 2022, 344, 352)),
            (lin(0.5, 618.3, 5.5, 467.7, 625), lin(0.5, 618.3, 5.5, 467.7, 466)))
c15.extra_y_ranges = {"r": Range1d(lin(0.5, 618.3, 3.0, 467.7, 625), lin(0.5, 618.3, 3.0, 467.7, 466))}
c15.add_layout(Span(location=1.0, dimension="width", line_color="#595959", line_width=1, level="underlay"))
c15.line(yrs(YIELD_DATES), YIELD_VALS, line_color="#7F7F7F", line_width=2.5, line_join="round")
c15.line(yrs(REL_DATES), REL_VALS, y_range_name="r", line_color=BLUE, line_width=2.5, line_join="round")
boxes(c15, C15_BLUE_BOX_START, C15_BLUE_BOX_END, C15_BLUE_BOX_TOP, C15_BLUE_BOX_BOTTOM, BLUE, "4 3", 1.4)
boxes(c15, C15_RED_BOX_START, C15_RED_BOX_END, C15_RED_BOX_TOP, C15_RED_BOX_BOTTOM, RED, "5 3", 2)
yax(c15.yaxis[0], C15_L_TICKS, "%.1f", 11, standoff=11, bounds=(0.5, 5.5))
r15 = LinearAxis(y_range_name="r")
yax(r15, C15_R_TICKS, "%.1f", 11, standoff=6, bounds=(0.5, 3.0))
c15.add_layout(r15, "right")
xax(c15.xaxis[0], YEAR_TICKS, YEAR_LABELS, 11, 0)

b2r = decor(MID, W, 348, 466)
source(b2r, 410, 753, 350, 362)
title(b2r, 412, 424, TITLES[16], 410, 752, 434)
leg_line(b2r, 455, 482, 446.7, "#7F7F7F", 2.5, "新增人民币贷款:居民户:短期:累计同比（%）")
leg_line(b2r, 455, 482, 460.5, BLUE, 2.5, "消费/万得全A（右轴）")

c16 = chart((MID, W, 466, 664), (458, 712, 474, 627),
            (lin(2005, 458.3, 2022, 703.3, 458), lin(2005, 458.3, 2022, 703.3, 712)),
            (lin(-200, 618.3, 400, 482.3, 627), lin(-200, 618.3, 400, 482.3, 474)))
c16.extra_y_ranges = {"r": Range1d(lin(0.5, 618.3, 3.0, 482.3, 627), lin(0.5, 618.3, 3.0, 482.3, 474))}
c16.add_layout(Span(location=0, dimension="width", line_color="#000000", line_width=1, level="underlay"))
c16.line(yrs(LOAN_DATES), LOAN_VALS, line_color="#808080", line_width=2, line_join="round")
c16.line(yrs(REL_DATES), REL_VALS, y_range_name="r", line_color=BLUE, line_width=2, line_join="round")
boxes(c16, C16_BLUE_BOX_START, C16_BLUE_BOX_END, C16_BLUE_BOX_TOP, C16_BLUE_BOX_BOTTOM, BLUE, "4 3", 1.4)
boxes(c16, C16_RED_BOX_START, C16_RED_BOX_END, C16_RED_BOX_TOP, C16_RED_BOX_BOTTOM, RED, "5 3", 2)
yax(c16.yaxis[0], C16_L_TICKS, "%.1f", 10.5, standoff=12, bounds=(-200, 400))
r16 = LinearAxis(y_range_name="r")
yax(r16, C16_R_TICKS, "%.1f", 10.5, standoff=9, bounds=(0.5, 3.0))
c16.add_layout(r16, "right")
xax(c16.xaxis[0], YEAR_TICKS, YEAR_LABELS, 9.5, -2)

# ================= row 3 =================
b3l = decor(0, MID, 664, 797)
source(b3l, 50, 393, 667, 679)
title(b3l, 52, 742, TITLES[17], 50, 392, 752)
leg_line(b3l, 127, 153, 773, RED, 2.5, "全国居民人均可支配收入:累计同比")
leg_line(b3l, 127, 153, 792, BLUE, 2.5, "可支配收入:住户部门:同比增长")

c17 = chart((0, MID, 797, 980), (89, 382, 800, 923),
            (lin(0, 90, 198, 368.3, 89), lin(0, 90, 198, 368.3, 382)),
            (lin(0, 919, 0.25, 803.3, 923), lin(0, 919, 0.25, 803.3, 800)))
c17.add_layout(Span(location=0, dimension="width", line_color="#000000", line_width=1.5, level="underlay"))
c17.line(mis(HH_INC_DATES), HH_INC_VALS, line_color=BLUE, line_width=2.5, line_join="round")
c17.line(mis(PC_INC_DATES), PC_INC_VALS, line_color=RED, line_width=2.5, line_join="round")
boxes(c17, C17_BOX_START, C17_BOX_END, C17_BOX_TOP, C17_BOX_BOTTOM, RED, "5 3", 2, conv=mis)
yax(c17.yaxis[0], C17_Y_TICKS, "%.2f", 11.5, color="#000000", standoff=10, bounds=(0, 0.25))
xax(c17.xaxis[0], mis(C17_TICK_LABELS), C17_TICK_LABELS, 11, 2)

b3r = decor(MID, W, 664, 795)
source(b3r, 410, 753, 667, 679)
title(b3r, 412, 742, TITLES[18], 410, 752, 752)
leg_box(b3r, 494, 518, 763, AREA_GRAY, 7, "PPI-CPI（%）")
leg_line(b3r, 494, 518, 777, DRED, 2.5, "PPI:全部工业品:当月同比（%）")
leg_line(b3r, 494, 518, 790, BLUE, 2.5, "CPI:当月同比（%）")

c18 = chart((MID, W, 795, 980), (453, 735, 800, 935),
            (lin(2005, 454.3, 2022, 721.7, 453), lin(2005, 454.3, 2022, 721.7, 735)),
            (lin(-10, 931, 15, 801, 935), lin(-10, 931, 15, 801, 800)))
c18.ygrid.visible = True
c18.ygrid.ticker = FixedTicker(ticks=C18_Y_TICKS)
c18.ygrid.grid_line_color = "#D9D9D9"
c18.ygrid.grid_line_dash = "2 2"
c18.varea(x=yrs(GAP_DATES), y1=0, y2=GAP_VALS, fill_color=AREA_GRAY)
c18.hspan(y=[0], line_color="#000000", line_width=1.5)
c18.line(yrs(PPI_DATES), PPI_VALS, line_color=DRED, line_width=2.5, line_join="round")
c18.line(yrs(CPI_DATES), CPI_VALS, line_color=BLUE, line_width=2.2, line_join="round")
boxes(c18, C18_BLUE_BOX_START, C18_BLUE_BOX_END, C18_BLUE_BOX_TOP, C18_BLUE_BOX_BOTTOM, BLUE, "4 3", 1.4)
boxes(c18, C18_RED_BOX_START, C18_RED_BOX_END, C18_RED_BOX_TOP, C18_RED_BOX_BOTTOM, RED, "5 3", 2)
yax(c18.yaxis[0], C18_Y_TICKS, "%.1f", 11.5, standoff=12, bounds=(-10, 15))
xax(c18.xaxis[0], YEAR_TICKS, YEAR_LABELS, 11.5, 3)

# ================= footer =================
ftr = decor(0, W, 980, 1132)
source(ftr, 50, 393, 982, 994)
source(ftr, 410, 753, 982, 994)
hl(ftr, 50, 752, 1056, "#333333", 1.5)
txt(ftr, 52, 1067, "请务必参阅正文后面的信息披露和法律声明", 13, "#000000")
txt(ftr, 752, 1067, "7 / 15", 12.5, "#000000", align="right")

row2 = row(column(row(b2l), row(c15), spacing=0), column(row(b2r), row(c16), spacing=0), spacing=0)
row3 = row(column(row(b3l), row(c17), spacing=0), column(row(b3r), row(c18), spacing=0), spacing=0)

page = column(
    hdr, top1,
    row(c13, c14, spacing=0),
    row2,
    row3,
    ftr, spacing=0,
    styles={"outline": "1px solid #8a8a8a", "outline-offset": "-1px"})

open("out.html", "w").write(file_html(page, INLINE))
